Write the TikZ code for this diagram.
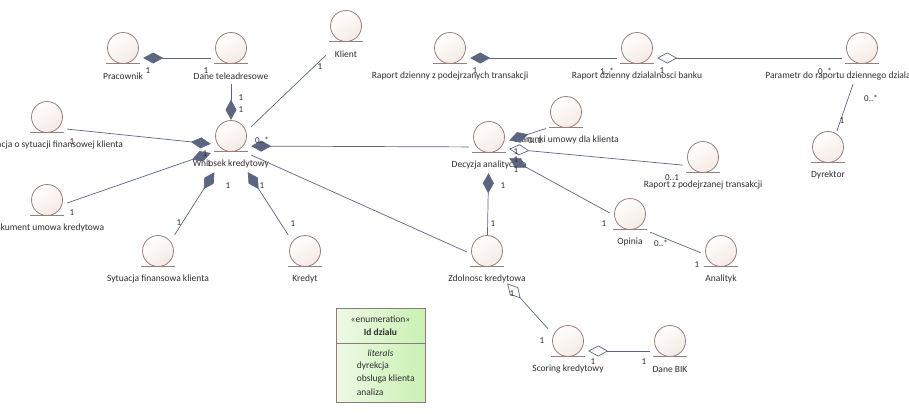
\documentclass[tikz,border=0pt]{standalone}
\usepackage{fontspec}
\setmainfont{Carlito}
\usetikzlibrary{arrows.meta,positioning}
\definecolor{linecol}{HTML}{5C6680}
\definecolor{entdraw}{HTML}{9A7E7C}
\definecolor{entfill}{HTML}{F0DFD4}
\definecolor{enumdraw}{HTML}{8E7C7C}
\definecolor{enumleft}{HTML}{EEF9E6}
\definecolor{enumright}{HTML}{C9F1B2}
\definecolor{txt}{HTML}{2E2E2E}
\begin{document}
\begin{tikzpicture}[x=1pt, y=-1pt,
    every node/.style={font=\fontsize{9.5}{13.5}\selectfont, text=txt, inner sep=0pt},
    entity/.style={minimum width=40pt, minimum height=52pt,
      path picture={
        \draw[entdraw, line width=0.8pt, top color=white, bottom color=entfill, shading angle=35]
          ([yshift=10pt]path picture bounding box.center) circle (15.5pt);
        \draw[entdraw, line width=0.8pt] ([xshift=-17pt,yshift=-5.8pt]path picture bounding box.center) -- ++(34pt,0pt);},
      label={[yshift=-18pt]center:#1}},
    conn/.style={draw=linecol, line width=0.7pt},
    comp/.style={conn, -{Diamond[length=20pt,width=11pt,fill=linecol]}},
    aggr/.style={conn, -{Diamond[open,length=20pt,width=11pt,fill=white]}},
    mult/.style={font=\fontsize{9}{10}\selectfont},
    enumpart/.style={draw=enumdraw, line width=0.7pt, left color=enumleft, right color=enumright, minimum width=89pt, align=center}]
\useasboundingbox (0,0) rectangle (909,413);
\node[entity=Pracownik] (prac) at (123,58) {};
\node[entity=Dane teleadresowe] (dane) at (231,58) {};
\node[entity=Klient] (kli) at (346,36) {};
\node[entity=Informacja o sytuacji finansowej klienta] (info) at (47,127) {};
\node[entity=Wniosek kredytowy] (wnio) at (231,146) {};
\node[entity=Dokument umowa kredytowa] (dok) at (47,210) {};
\node[entity=Sytuacja finansowa klienta] (syt) at (158,261) {};
\node[entity=Kredyt] (kred) at (305,261) {};
\node[entity=Decyzja analityczna] (dec) at (489,147) {};
\node[entity=Warunki umowy dla klienta] (war) at (566,122) {};
\node[entity=Raport z podejrzanej transakcji] (rzp) at (703,167) {};
\node[entity=Opinia] (opi) at (630,224) {};
\node[entity=Analityk] (ana) at (721,261) {};
\node[entity=Zdolnosc kredytowa] (zdol) at (487,261) {};
\node[entity=Scoring kredytowy] (scor) at (568,351) {};
\node[entity=Dane BIK] (bik) at (670,351) {};
\node[entity=Raport dzienny z podejrzanych transakcji] (rdp) at (450,58) {};
\node[entity=Raport dzienny dzialalnosci banku] (rdd) at (637,58) {};
\node[entity=Parametr do raportu dziennego dzialalnosci banku] (par) at (862,58) {};
\node[entity=Dyrektor] (dyr) at (828,157) {};
\draw[comp] (dane) -- (prac);
\draw[comp] (dane) -- (wnio);
\draw[conn] (kli) -- (wnio);
\draw[comp] (info) -- (wnio);
\draw[comp] (dok) -- (wnio);
\draw[comp] (syt) -- (wnio);
\draw[comp] (kred) -- (wnio);
\draw[conn] (zdol) -- (wnio);
\draw[comp] (dec) -- (wnio);
\draw[comp] (rdd) -- (rdp);
\draw[aggr] (par) -- (rdd);
\draw[conn] (par) -- (dyr);
\draw[comp] (war) -- (dec);
\draw[aggr] (rzp) -- (dec);
\draw[comp] (opi) -- (dec);
\draw[comp] (zdol) -- (dec);
\draw[conn] (opi) -- (ana);
\draw[aggr] (scor) -- (zdol);
\draw[aggr] (bik) -- (scor);
\node[mult] (m1) at (148,71) {1};
\node[mult] (m2) at (206,71) {1};
\node[mult] (m3) at (241,98) {1};
\node[mult] (m4) at (241,110) {1};
\node[mult] (m5) at (320,67) {1};
\node[mult] (m6) at (72,142) {1};
\node[mult] (m7) at (205,154) {1};
\node[mult] (m8) at (72,213) {1};
\node[mult] (m9) at (209,164) {1};
\node[mult] (m10) at (228,186) {1};
\node[mult] (m11) at (179,223) {1};
\node[mult] (m12) at (262,186) {1};
\node[mult] (m13) at (293,224) {1};
\node[mult] (m14) at (262,140) {0..*};
\node[mult] (m15) at (475,71) {1};
\node[mult] (m16) at (607,71) {1..*};
\node[mult] (m17) at (662,71) {1};
\node[mult] (m18) at (825,71) {0..*};
\node[mult] (m19) at (871,98) {0..*};
\node[mult] (m20) at (842,121) {1};
\node[mult] (m21) at (535,141) {0..1};
\node[mult] (m22) at (516,152) {1};
\node[mult] (m23) at (672,178) {0..1};
\node[mult] (m24) at (516,160) {1};
\node[mult] (m25) at (604,224) {1};
\node[mult] (m26) at (516,170) {1};
\node[mult] (m27) at (503,186) {1};
\node[mult] (m28) at (493,224) {1};
\node[mult] (m29) at (661,243) {0..*};
\node[mult] (m30) at (697,265) {1};
\node[mult] (m31) at (512,294) {1};
\node[mult] (m32) at (542,341) {1};
\node[mult] (m33) at (593,362) {1};
\node[mult] (m34) at (644,362) {1};
\node[enumpart, minimum height=35pt] (enumhead) at (380.5,325.5) {\guillemotleft enumeration\guillemotright\\\textbf{Id dzialu}};
\node[enumpart, minimum height=59pt, below=0pt of enumhead] (enumbody) {};
\node (lit) at ([yshift=-10pt]enumbody.north) {\textit{literals}};
\node[anchor=west] (lit1) at ([xshift=21pt,yshift=-23pt]enumbody.north west) {dyrekcja};
\node[anchor=west] (lit2) at ([xshift=21pt,yshift=-36pt]enumbody.north west) {obsluga klienta};
\node[anchor=west] (lit3) at ([xshift=21pt,yshift=-49pt]enumbody.north west) {analiza};
\end{tikzpicture}
\end{document}
